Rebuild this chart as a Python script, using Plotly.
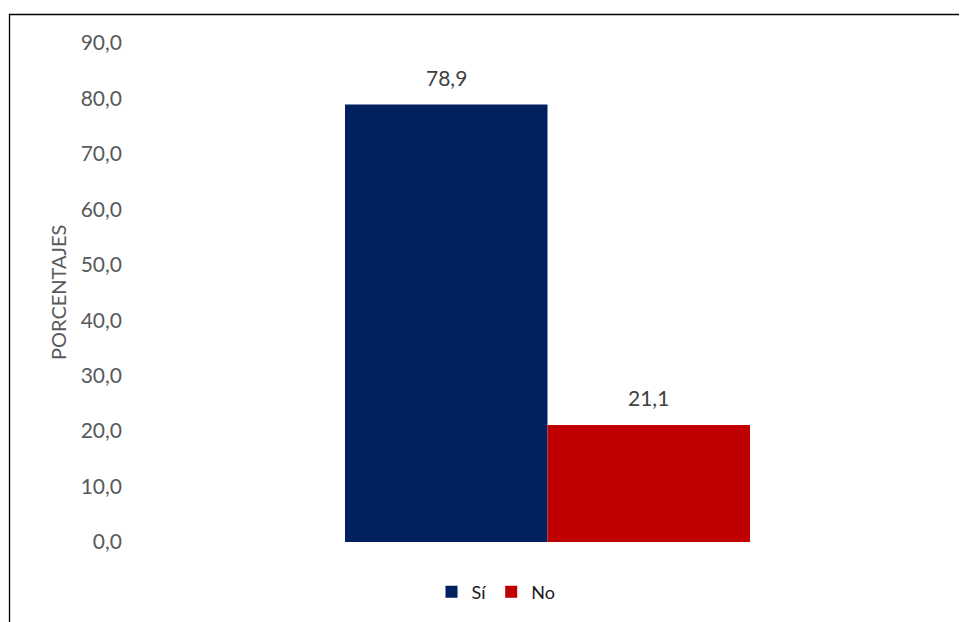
import plotly.graph_objects as go

categories = [""]
series_names = ["Sí", "No"]
si_values = [78.9]
no_values = [21.1]
colors = ["#002060", "#C00000"]
y_ticks = [0, 10, 20, 30, 40, 50, 60, 70, 80, 90]

FONT = "Lato, Calibri, sans-serif"
BARGAP = 0.515

fig = go.Figure()
for name, vals, col in zip(series_names, [si_values, no_values], colors):
    fig.add_trace(go.Bar(
        x=categories, y=vals, name=name, marker=dict(color=col, line=dict(width=0)),
    ))

# page is offset by the default 8px body margin
OFF = 8
W, H = 967 - OFF, 622 - OFF
L, T = 130 - OFF, 43 - OFF
R = W - (965 - OFF)
B = H - (542 - OFF)
pw, ph = W - L - R, H - T - B

def px(xp):
    return (xp - OFF - L) / pw

def py(yp):
    return (H - B - (yp - OFF)) / ph

# value labels above each bar (group offsets derived from bargap)
bw = (1 - BARGAP) / len(series_names)
annotations = []
for i, vals in enumerate([si_values, no_values]):
    off = (i - (len(series_names) - 1) / 2) * bw
    for j, v in enumerate(vals):
        annotations.append(dict(
            x=j + off, y=v, xref="x", yref="y", text=f"{v:.1f}".replace(".", ","),
            showarrow=False, yanchor="bottom", yshift=13,
            font=dict(family=FONT, size=21, color="#404040")))

annotations.append(dict(
    x=px(57.5), y=py(292.5), xref="paper", yref="paper", text="PORCENTAJES",
    textangle=-90, showarrow=False, xanchor="center", yanchor="middle",
    font=dict(family=FONT, size=20, color="#595959")))

fig.update_layout(
    width=W, height=H,
    margin=dict(l=L, r=R, t=T, b=B, autoexpand=False),
    paper_bgcolor="white", plot_bgcolor="white",
    separators=",.",
    barmode="group", bargap=BARGAP, bargroupgap=0,
    font=dict(family=FONT, color="#595959"),
    showlegend=True,
    legend=dict(orientation="h", x=px(496), xanchor="center", y=py(592), yanchor="middle",
                font=dict(family=FONT, size=18, color="#1a1a1a"), itemwidth=30,
                traceorder="normal", bgcolor="rgba(0,0,0,0)"),
    xaxis=dict(showticklabels=False, showgrid=False, zeroline=False, showline=False, ticks=""),
    yaxis=dict(range=[0, 90], tickvals=y_ticks, tickformat=".1f", showgrid=False,
               zeroline=False, showline=False, ticks="",
               ticklabelstandoff=7,
               tickfont=dict(family=FONT, size=21, color="#595959")),
    annotations=annotations,
    shapes=[dict(type="rect", xref="paper", yref="paper",
                 x0=px(9.5), y0=py(660), x1=px(1000), y1=py(14.5),
                 line=dict(color="black", width=1.3), fillcolor="rgba(0,0,0,0)", layer="above")],
)

fig.write_html("out.html")
